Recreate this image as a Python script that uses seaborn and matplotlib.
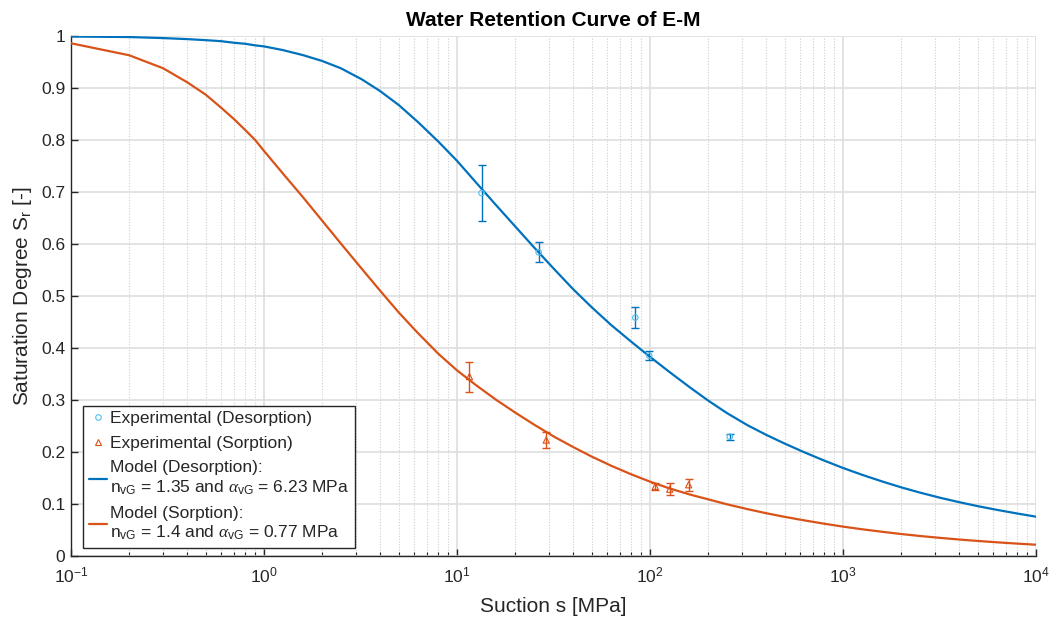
import numpy as np
import pandas as pd
import matplotlib
matplotlib.use("Agg")
import matplotlib.pyplot as plt
import seaborn as sns
from matplotlib.lines import Line2D
from matplotlib.ticker import LogLocator, LogFormatterMathtext, NullFormatter

# ---------------- data ----------------
s_model = [0.1, 0.2, 0.3, 0.4, 0.5, 0.6, 0.7, 0.8, 0.9,
           1.0, 1.25, 1.6, 2, 2.5, 3.2, 4, 5, 6.3, 8,
           10, 12.5, 16, 20, 25, 32, 40, 50, 63, 80,
           100, 125, 160, 200, 250, 320, 400, 500, 630, 800,
           1000, 1250, 1600, 2000, 2500, 3200, 4000, 5000, 6300, 8000, 10000]
sr_model_des = [0.999, 0.998, 0.996, 0.994, 0.992, 0.990, 0.987, 0.985, 0.982,
                0.980, 0.973, 0.963, 0.952, 0.938, 0.917, 0.894, 0.867, 0.834, 0.797,
                0.760, 0.719, 0.674, 0.634, 0.594, 0.551, 0.513, 0.478, 0.444, 0.412,
                0.383, 0.355, 0.325, 0.299, 0.275, 0.2515, 0.233, 0.216, 0.1995, 0.1834,
                0.1693, 0.1564, 0.1432, 0.1321, 0.1220, 0.1118, 0.1035, 0.0958, 0.0886, 0.0817, 0.0756]
sr_model_sorp = [0.986, 0.963, 0.938, 0.911, 0.887, 0.862, 0.840, 0.819, 0.800,
                 0.779, 0.736, 0.689, 0.645, 0.601, 0.553, 0.510, 0.468, 0.428, 0.389,
                 0.357, 0.329, 0.300, 0.276, 0.253, 0.229, 0.2095, 0.191, 0.1735, 0.157,
                 0.143, 0.1305, 0.1185, 0.109, 0.0995, 0.0901, 0.0823, 0.0752, 0.0685, 0.0621,
                 0.0565, 0.0515, 0.0465, 0.0423, 0.0385, 0.0348, 0.0317, 0.0289, 0.0263, 0.0238, 0.0217]

s_exp_des = [13.4, 26.5, 83.9, 99.0, 259.0]
sr_exp_des = [0.698, 0.584, 0.4585, 0.3855, 0.2295]
err_exp_des = [0.054, 0.019, 0.0205, 0.0085, 0.0055]

s_exp_sorp = [11.6, 29.0, 106.5, 126.5, 158.6]
sr_exp_sorp = [0.345, 0.223, 0.134, 0.1285, 0.137]
err_exp_sorp = [0.029, 0.015, 0.007, 0.0115, 0.012]

ytick_values = [0, 0.1, 0.2, 0.3, 0.4, 0.5, 0.6, 0.7, 0.8, 0.9, 1.0]
ytick_labels = ["0", "0.1", "0.2", "0.3", "0.4", "0.5", "0.6", "0.7", "0.8", "0.9", "1"]

labels = ["Experimental (Desorption)", "Experimental (Sorption)",
          "Model (Desorption):\nn$_{\\mathrm{vG}}$ = 1.35 and $\\alpha_{\\mathrm{vG}}$ = 6.23 MPa",
          "Model (Sorption):\nn$_{\\mathrm{vG}}$ = 1.4 and $\\alpha_{\\mathrm{vG}}$ = 0.77 MPa"]

BLUE = "#0072BD"
LIGHTBLUE = "#4DBEEE"
ORANGE = "#D95319"
DARK = "#262626"

# ---------------- style ----------------
sns.set_theme(style="white")
plt.rcParams["font.family"] = ["Liberation Sans", "DejaVu Sans"]
plt.rcParams["mathtext.fontset"] = "custom"
plt.rcParams["mathtext.rm"] = "Liberation Sans"
plt.rcParams["mathtext.it"] = "Liberation Serif:italic"
plt.rcParams["mathtext.bf"] = "Liberation Sans:bold"

fig = plt.figure(figsize=(10.56, 6.21), dpi=100)
ax = fig.add_axes([71 / 1056, 1 - 556 / 621, (1036 - 71) / 1056, (556 - 36) / 621])

df_model = pd.DataFrame({"s": s_model * 2,
                         "Sr": sr_model_des + sr_model_sorp,
                         "curve": ["des"] * len(s_model) + ["sorp"] * len(s_model)})

ax.set_xscale("log")
ax.grid(True, which="major", axis="both", color="#dedede", linewidth=1.2, linestyle="-")
ax.grid(True, which="minor", axis="x", color="#cfcfcf", linewidth=0.8, linestyle=(0, (1, 1.5)))
ax.set_axisbelow(True)

sns.lineplot(data=df_model, x="s", y="Sr", hue="curve", palette={"des": BLUE, "sorp": ORANGE},
             estimator=None, sort=False, linewidth=1.6, ax=ax, legend=False, zorder=3)

ax.errorbar(s_exp_des, sr_exp_des, yerr=err_exp_des, fmt="none", ecolor=BLUE,
            elinewidth=1.0, capsize=2.8, capthick=1.0, zorder=4)
ax.errorbar(s_exp_sorp, sr_exp_sorp, yerr=err_exp_sorp, fmt="none", ecolor=ORANGE,
            elinewidth=1.0, capsize=2.8, capthick=1.0, zorder=4)

df_des = pd.DataFrame({"s": s_exp_des, "Sr": sr_exp_des})
df_sorp = pd.DataFrame({"s": s_exp_sorp, "Sr": sr_exp_sorp})
sns.scatterplot(data=df_des, x="s", y="Sr", marker="o", s=16, facecolors="none",
                edgecolor=LIGHTBLUE, linewidth=0.8, ax=ax, zorder=5)
sns.scatterplot(data=df_sorp, x="s", y="Sr", marker="^", s=20, facecolors="none",
                edgecolor=ORANGE, linewidth=0.8, ax=ax, zorder=5)

ax.set_xlim(0.1, 1e4)
ax.set_ylim(0, 1)
ax.set_yticks(ytick_values)
ax.set_yticklabels(ytick_labels)
ax.xaxis.set_major_locator(LogLocator(base=10, numticks=10))
ax.xaxis.set_minor_locator(LogLocator(base=10, subs=np.arange(2, 10), numticks=20))
ax.xaxis.set_major_formatter(LogFormatterMathtext())
ax.xaxis.set_minor_formatter(NullFormatter())

for side in ["top", "right"]:
    ax.spines[side].set_visible(False)
for side in ["left", "bottom"]:
    ax.spines[side].set_color(DARK)
    ax.spines[side].set_linewidth(1.0)

ax.tick_params(axis="both", which="major", direction="in", length=5, width=1.0,
               color=DARK, labelsize=12.5, labelcolor=DARK)
ax.tick_params(axis="y", which="major", pad=4, left=True)
ax.tick_params(axis="x", which="major", pad=7, bottom=True)
ax.tick_params(axis="x", which="minor", direction="in", length=3, width=0.8, color=DARK,
               bottom=True)

ax.set_xlabel("Suction s [MPa]", fontsize=15, color=DARK, labelpad=8)
ax.set_ylabel("Saturation Degree S$_{\\mathrm{r}}$ [-]", fontsize=15, color=DARK, labelpad=5)
ax.set_title("Water Retention Curve of E-M", fontsize=15, fontweight="bold", color="black", pad=7)

handles = [
    Line2D([], [], linestyle="none", marker="o", markersize=4, markerfacecolor="none",
           markeredgecolor=LIGHTBLUE, markeredgewidth=0.8),
    Line2D([], [], linestyle="none", marker="^", markersize=4.5, markerfacecolor="none",
           markeredgecolor=ORANGE, markeredgewidth=0.8),
    Line2D([], [], color=BLUE, linewidth=1.6),
    Line2D([], [], color=ORANGE, linewidth=1.6),
]
leg = ax.legend(handles, labels, loc="lower left", bbox_to_anchor=(12 / 965, 8 / 520),
                borderaxespad=0, fontsize=12.5, frameon=True, fancybox=False,
                edgecolor=DARK, framealpha=1, handlelength=1.05, handletextpad=0.2,
                borderpad=0.32, labelspacing=0.55)
leg.get_frame().set_linewidth(1.0)

fig.savefig("out.png", dpi=100)
